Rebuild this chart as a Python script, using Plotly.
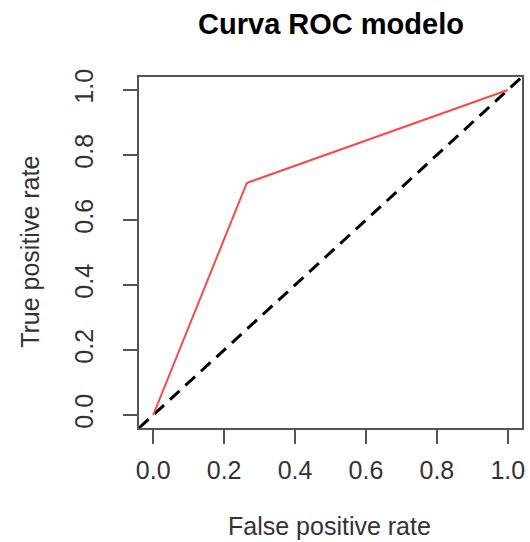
import plotly.graph_objects as go

# ROC curve points
fpr = [0.0, 0.264, 1.0]
tpr = [0.0, 0.714, 1.0]
# reference diagonal (abline a=0, b=1)
diag_x = [-0.04, 1.04]
diag_y = [-0.04, 1.04]
tick_vals = [0.0, 0.2, 0.4, 0.6, 0.8, 1.0]
tick_text = ["0.0", "0.2", "0.4", "0.6", "0.8", "1.0"]

FONT = "Liberation Sans, Arial, Helvetica, sans-serif"

fig = go.Figure()
fig.add_trace(go.Scatter(x=diag_x, y=diag_y, mode="lines",
                         line=dict(color="black", width=3, dash="13px,8px"),
                         showlegend=False, hoverinfo="skip"))
fig.add_trace(go.Scatter(x=fpr, y=tpr, mode="lines",
                         line=dict(color="rgb(255,70,70)", width=2),
                         showlegend=False))

axis_common = dict(
    showgrid=False, zeroline=False,
    showline=True, mirror=True, linecolor="#555555", linewidth=2,
    ticks="outside", ticklen=14, tickwidth=2, tickcolor="#555555",
    tickvals=tick_vals, ticktext=tick_text,
    tickfont=dict(family=FONT, size=25, color="#333333"),
)

fig.update_layout(
    width=530, height=542,
    margin=dict(l=139, r=5, t=77, b=114),
    paper_bgcolor="white", plot_bgcolor="white",
    title=dict(text="<b>Curva ROC modelo</b>", x=331/530, xanchor="center",
               y=1 - 24/542, yanchor="middle", yref="container",
               font=dict(family=FONT, size=29, color="black")),
    xaxis=dict(range=[-0.04, 1.04], ticklabelstandoff=5, **axis_common),
    yaxis=dict(range=[-0.04, 1.04], tickangle=-90, ticklabelstandoff=20, **axis_common),
    annotations=[
        dict(text="False positive rate", xref="paper", yref="paper",
             x=(331 - 139) / 386, y=(428 - 526) / 351, xanchor="center", yanchor="middle",
             showarrow=False, font=dict(family=FONT, size=25, color="#333333")),
        dict(text="True positive rate", xref="paper", yref="paper",
             x=(29 - 139) / 386, y=(428 - 252) / 351, xanchor="center", yanchor="middle",
             textangle=-90, showarrow=False,
             font=dict(family=FONT, size=25, color="#333333")),
    ],
)

fig.write_html("out.html")
